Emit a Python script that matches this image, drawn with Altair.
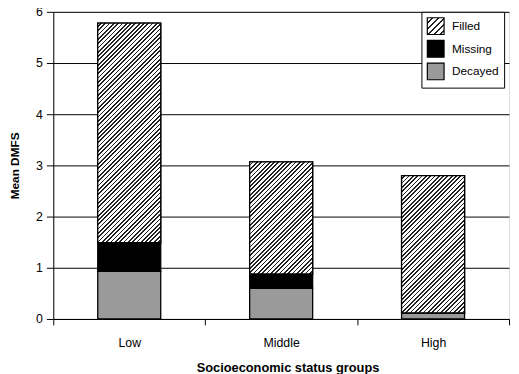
import altair as alt
import pandas as pd

# ---- data ----
groups = ["Low", "Middle", "High"]
series = ["Filled", "Missing", "Decayed"]
decayed = [0.93, 0.60, 0.12]
missing = [0.56, 0.28, 0.00]
filled = [4.29, 2.19, 2.68]
stack_order = {"Decayed": 0, "Missing": 1, "Filled": 2}

rows = []
for i, g in enumerate(groups):
    for s, vals in (("Decayed", decayed), ("Missing", missing), ("Filled", filled)):
        rows.append({"group": g, "series": s, "value": vals[i], "order": stack_order[s]})
df = pd.DataFrame(rows)

# ---- layout / style ----
W, H = 463, 312
YMAX = 6
BAR = 64
PERIOD = 3.1
INK = "#222222"
FRAC = 0.4
FONT = "Liberation Sans"
GRAY = "#9a9a9a"


def hatch(w, h, period, frac=FRAC):
    """Linear gradient (bbox units) producing 45-degree '/' stripes."""
    k = (w + h) / (w * w + h * h)
    x2, y2 = w * k, h * k
    span = (w + h) / 2 ** 0.5
    t = period / span
    stops = []
    a = 0.0
    while a < 1 - 1e-9:
        m = min(a + t * (1 - frac), 1.0)
        e = min(a + t, 1.0)
        stops += [(round(a, 5), "white"), (round(m, 5), "white"),
                  (round(m, 5), INK), (round(e, 5), INK)]
        a += t
    return x2, y2, stops


def grad_dict(w, h, period):
    x2, y2, stops = hatch(w, h, period)
    return {"gradient": "linear", "x1": 0, "y1": 0, "x2": x2, "y2": y2,
            "stops": [{"offset": o, "color": c} for o, c in stops]}


def grad_expr(w, h, period):
    x2, y2, stops = hatch(w, h, period, 0.3)
    st = ",".join("{offset:%s,color:'%s'}" % (o, c) for o, c in stops)
    return "{gradient:'linear',x1:0,y1:0,x2:%s,y2:%s,stops:[%s]}" % (x2, y2, st)


legend_hatch = grad_expr(17, 17, 4.4)

x_enc = alt.X(
    "group:N", sort=groups,
    scale=alt.Scale(paddingInner=0, paddingOuter=0),
    axis=alt.Axis(title="Socioeconomic status groups", labelAngle=0, tickBand="extent",
                  tickSize=6, labelPadding=12, titlePadding=13, titleX=238,
                  domainColor="black", tickColor="black", labelColor="black",
                  titleColor="black", labelFont=FONT, titleFont=FONT,
                  labelFontSize=12.5, titleFontSize=13, titleFontWeight="bold",
                  grid=False),
)
y_enc = alt.Y(
    "y0:Q",
    scale=alt.Scale(domain=[0, YMAX], nice=False),
    axis=alt.Axis(title="Mean DMFS", values=[0, 1, 2, 3, 4, 5, 6], format="d",
                  tickSize=7, labelPadding=4, titlePadding=14,
                  grid=True, gridColor="black", gridWidth=1, gridOpacity=1,
                  domainColor="black", tickColor="black", labelColor="black",
                  titleColor="black", labelFont=FONT, titleFont=FONT,
                  labelFontSize=12.5, titleFontSize=12, titleFontWeight="bold"),
)

base = alt.Chart(df).transform_stack(
    stack="value", groupby=["group"], as_=["y0", "y1"],
    sort=[alt.SortField("order", order="ascending")],
)

bars = base.mark_bar(size=BAR, stroke="black", strokeWidth=1.3).encode(
    x=x_enc, y=y_enc, y2="y1:Q",
    fill=alt.Fill(
        "series:N",
        scale=alt.Scale(domain=series, range=[alt.ExprRef(legend_hatch), "black", GRAY]),
        legend=alt.Legend(title=None, orient="none", legendX=374, legendY=0,
                          symbolType="square", symbolSize=289,
                          symbolStrokeColor="black", symbolStrokeWidth=1.2,
                          fillColor="white", strokeColor="black", padding=5,
                          rowPadding=0, labelOffset=7, labelFont=FONT,
                          labelFontSize=12, labelColor="black",
                          labelExpr="datum.label + '\u00a0\u00a0\u00a0'"),
    ),
)

layers = [bars]
unit = H / YMAX
for i, g in enumerate(groups):
    h_px = filled[i] * unit
    layers.append(
        base.transform_filter(
            (alt.datum.series == "Filled") & (alt.datum.group == g)
        ).mark_bar(size=BAR, stroke="black", strokeWidth=1.3).encode(
            x=x_enc, y=y_enc, y2="y1:Q",
            fill=alt.value(grad_dict(BAR, h_px, PERIOD)),
        )
    )

chart = alt.layer(*layers).properties(
    width=W, height=H,
    autosize=alt.AutoSizeParams(type="none"),
    padding={"left": 46, "top": 1, "right": 2, "bottom": 53},
).configure_view(stroke="black", strokeWidth=1).configure(background="white")

chart.save("out.html", embed_options={"renderer": "svg", "actions": False})
